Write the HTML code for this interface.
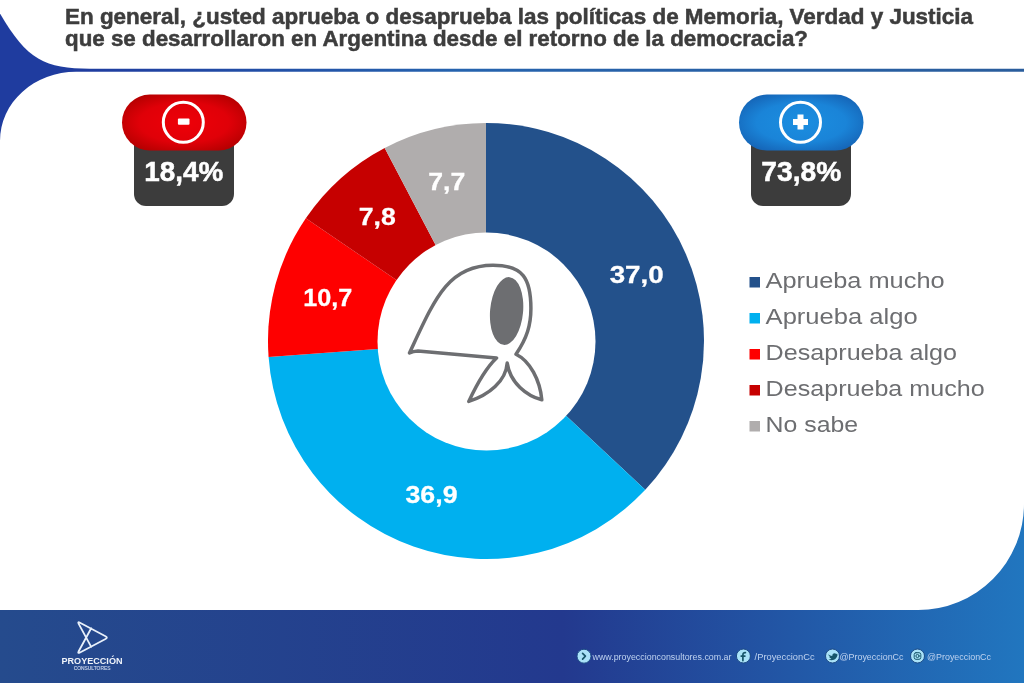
<!DOCTYPE html>
<html><head><meta charset="utf-8">
<style>
html,body{margin:0;padding:0;width:1024px;height:683px;overflow:hidden;background:#fff;}
svg{display:block;will-change:transform;}
text{font-family:"Liberation Sans", sans-serif;}
</style></head>
<body>
<svg width="1024" height="683" viewBox="0 0 1024 683">
<defs>
<linearGradient id="lineg" x1="0" y1="0" x2="1" y2="0">
<stop offset="0" stop-color="#1f3c9f"/><stop offset="0.08" stop-color="#1f3c9f"/><stop offset="0.45" stop-color="#2563ae"/><stop offset="1" stop-color="#2a5d9c"/>
</linearGradient>
<linearGradient id="footg" x1="0" y1="0" x2="1" y2="0">
<stop offset="0" stop-color="#254b8d"/><stop offset="0.55" stop-color="#23398e"/><stop offset="1" stop-color="#2176bf"/>
</linearGradient>
<radialGradient id="redg" cx="0.5" cy="0.5" r="0.6">
<stop offset="0" stop-color="#ee0008"/><stop offset="0.6" stop-color="#e00008"/><stop offset="1" stop-color="#b20000"/>
</radialGradient>
<radialGradient id="blueg" cx="0.5" cy="0.5" r="0.6">
<stop offset="0" stop-color="#1b8ee0"/><stop offset="0.6" stop-color="#1a84d8"/><stop offset="1" stop-color="#1563b5"/>
</radialGradient>
</defs>
<!-- background blue parts -->
<rect x="0" y="0" width="1024" height="683" fill="url(#lineg)"/>
<rect x="0" y="500" width="1024" height="183" fill="url(#footg)"/>
<!-- header white -->
<path fill="#fff" d="M0,0 H1024 V68.7 H90 C45,68.7 27,60 0,13.5 Z"/>
<!-- content white -->
<path fill="#fff" d="M76,71.7 H1024 V504 A106,106 0 0 1 918,610 H0 V140.7 A76,69 0 0 1 76,71.7 Z"/>

<!-- title -->
<text x="65" y="23.6" font-size="21.5" font-weight="bold" fill="#3d3d3d" stroke="#3d3d3d" stroke-width="0.5" textLength="908" lengthAdjust="spacingAndGlyphs">En general, ¿usted aprueba o desaprueba las políticas de Memoria, Verdad y Justicia</text>
<text x="65" y="45.6" font-size="21.5" font-weight="bold" fill="#3d3d3d" stroke="#3d3d3d" stroke-width="0.5" textLength="743" lengthAdjust="spacingAndGlyphs">que se desarrollaron en Argentina desde el retorno de la democracia?</text>

<!-- donut -->
<path fill="#23518b" d="M486,341 L486.00,123.00 A218,218 0 0 1 645.26,489.86 Z"/>
<path fill="#00b0ef" d="M486,341 L645.26,489.86 A218,218 0 0 1 268.59,357.06 Z"/>
<path fill="#fe0000" d="M486,341 L268.59,357.06 A218,218 0 0 1 305.82,218.29 Z"/>
<path fill="#c60000" d="M486,341 L305.82,218.29 A218,218 0 0 1 384.69,147.97 Z"/>
<path fill="#b0adad" d="M486,341 L384.69,147.97 A218,218 0 0 1 486.00,123.00 Z"/>
<circle cx="486.5" cy="341.5" r="109" fill="#fff"/>

<!-- slice labels -->
<g fill="#fff" font-weight="bold" font-size="24.5" stroke="#fff" stroke-width="0.3">
<text x="609.7" y="283.2" textLength="54" lengthAdjust="spacingAndGlyphs">37,0</text>
<text x="405.5" y="502.7" textLength="52" lengthAdjust="spacingAndGlyphs">36,9</text>
<text x="303.3" y="305.6" textLength="49" lengthAdjust="spacingAndGlyphs">10,7</text>
<text x="358.8" y="225" textLength="37" lengthAdjust="spacingAndGlyphs">7,8</text>
<text x="428.3" y="189.7" textLength="37" lengthAdjust="spacingAndGlyphs">7,7</text>
</g>

<!-- headscarf icon -->
<g fill="none" stroke="#6d6e71" stroke-width="3.5" stroke-linejoin="round">
<path d="M409.5,353 C434.75,298.75 448,265.2 493,265.2 C523,265.2 530.9,278.5 530.9,308.5 C530.9,325 527,338 516,354.2 C530,361 540,380 541.8,399.8 C527,396 510,383 507.2,363 C506,381 489,395 468.8,401.4 C476,386 487,367 496.5,358 L418,351 Q413,351.2 409.5,353 Z"/>
</g>
<ellipse cx="506.6" cy="311" rx="16.5" ry="34" transform="rotate(5 506.6 311)" fill="#6d6e71"/>

<!-- legend -->
<g font-size="22.5" fill="#6d6e71">
<rect x="749.5" y="277" width="10.5" height="10.5" fill="#23518b"/>
<text x="765.6" y="288.4" textLength="179" lengthAdjust="spacingAndGlyphs">Aprueba mucho</text>
<rect x="749.5" y="313" width="10.5" height="10.5" fill="#00b0ef"/>
<text x="765.6" y="324.4" textLength="152" lengthAdjust="spacingAndGlyphs">Aprueba algo</text>
<rect x="749.5" y="349" width="10.5" height="10.5" fill="#fe0000"/>
<text x="765.6" y="360.4" textLength="191.5" lengthAdjust="spacingAndGlyphs">Desaprueba algo</text>
<rect x="749.5" y="385" width="10.5" height="10.5" fill="#c60000"/>
<text x="765.6" y="396.4" textLength="219" lengthAdjust="spacingAndGlyphs">Desaprueba mucho</text>
<rect x="749.5" y="421" width="10.5" height="10.5" fill="#b0adad"/>
<text x="765.6" y="432.4" textLength="92.5" lengthAdjust="spacingAndGlyphs">No sabe</text>
</g>

<!-- badge minus -->
<path fill="#3c3c3c" d="M134,140 H234 V194 A12,12 0 0 1 222,206 H146 A12,12 0 0 1 134,194 Z"/>
<rect x="122" y="94.6" width="124.5" height="55.9" rx="27.9" fill="url(#redg)"/>
<circle cx="183.3" cy="122.3" r="20" fill="none" stroke="#fff" stroke-width="3"/>
<rect x="177.9" y="118.5" width="11.6" height="6.3" rx="1" fill="#fff"/>
<text x="144.3" y="180.8" font-size="28" font-weight="bold" fill="#fff" stroke="#fff" stroke-width="0.5" textLength="79" lengthAdjust="spacingAndGlyphs">18,4%</text>

<!-- badge plus -->
<path fill="#3c3c3c" d="M751,140 H851 V194 A12,12 0 0 1 839,206 H763 A12,12 0 0 1 751,194 Z"/>
<rect x="739" y="94.6" width="124.5" height="55.9" rx="27.9" fill="url(#blueg)"/>
<circle cx="800.5" cy="122.3" r="20" fill="none" stroke="#fff" stroke-width="3"/>
<path fill="#fff" d="M797.5,114.6 H803.5 V119 H808 V125 H803.5 V129.4 H797.5 V125 H793 V119 H797.5 Z"/>
<text x="761.3" y="180.8" font-size="28" font-weight="bold" fill="#fff" stroke="#fff" stroke-width="0.5" textLength="80" lengthAdjust="spacingAndGlyphs">73,8%</text>

<!-- footer logo -->
<g fill="none" stroke="#e8f0fa" stroke-width="1.8" stroke-linejoin="round" stroke-linecap="round">
<path d="M91.2,628.3 L78.7,651.3 Q77.3,653.9 80.0,652.5 L105.5,639.0 Q108.2,637.6 105.5,636.2 L80.0,622.7 Q77.3,621.3 78.7,623.9 L91.2,646.9"/>
</g>
<text x="61.5" y="663.7" font-size="9" font-weight="bold" fill="#f0f4fa" textLength="61" lengthAdjust="spacingAndGlyphs">PROYECCIÓN</text>
<text x="73.8" y="669.6" font-size="5" fill="#c8d4ea" stroke="#c8d4ea" stroke-width="0.15" textLength="36.6" lengthAdjust="spacingAndGlyphs">CONSULTORES</text>

<!-- footer social -->
<g fill="#a9e2f8" stroke="#1d4b86" stroke-width="1">
<circle cx="584" cy="656.2" r="7"/>
<circle cx="743.4" cy="656" r="7"/>
<circle cx="832.5" cy="656" r="7"/>
<circle cx="917.5" cy="656" r="7"/>
</g>
<g fill="none" stroke="#17566a" stroke-width="1.7" stroke-linecap="round" stroke-linejoin="round">
<path d="M582.6,653.3 L585.4,656.2 L582.6,659.1"/>
<path d="M742.9,660.6 V655.2 C742.9,653.3 743.8,652.6 745.4,652.7 M741.2,656.1 H744.9"/>
<rect x="914.2" y="652.7" width="6.6" height="6.6" rx="1.8" stroke-width="1"/>
<circle cx="917.5" cy="656" r="1.6" stroke-width="1"/>
</g>
<path fill="#17566a" d="M828.5,654.2 C829.5,655.3 830.8,655.9 832.3,655.9 C832.1,654.4 833.2,653.2 834.6,653.2 C835.3,653.2 835.8,653.5 836.2,653.9 L837.3,653.4 L836.8,654.5 L837.6,654.3 C837.4,657.7 835,660.2 831.6,660.2 C830.4,660.2 829.3,659.9 828.4,659.3 C829.6,659.4 830.7,659 831.4,658.4 C830.2,658.3 829.3,657.4 829.2,656.4 C829.6,656.5 829.9,656.5 830.3,656.4 C829,656.1 828.2,655.1 828.5,654.2 Z"/>
<g fill="#bfd3f0" font-size="9.2">
<text x="592.5" y="659.5" textLength="139" lengthAdjust="spacingAndGlyphs">www.proyeccionconsultores.com.ar</text>
<text x="754.6" y="659.5" textLength="60" lengthAdjust="spacingAndGlyphs">/ProyeccionCc</text>
<text x="839.5" y="659.5" textLength="64" lengthAdjust="spacingAndGlyphs">@ProyeccionCc</text>
<text x="927" y="659.5" textLength="64" lengthAdjust="spacingAndGlyphs">@ProyeccionCc</text>
</g>
</svg>
</body></html>
